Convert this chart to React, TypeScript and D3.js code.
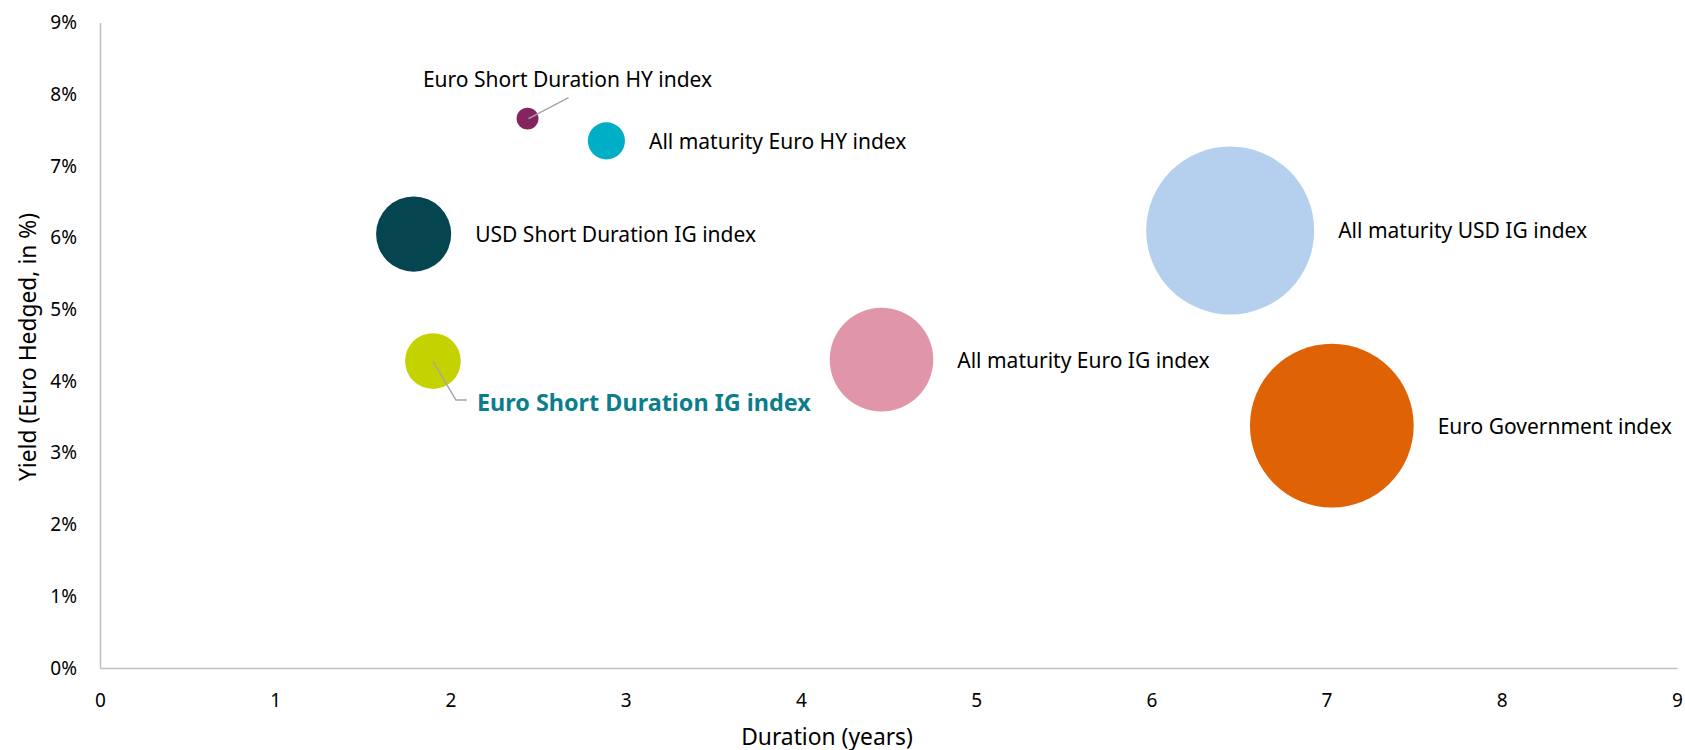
import React, { useEffect, useRef } from "react";
import * as d3 from "d3";

// данные: дюрация (лет), доходность (%), размер пузыря (усл. ед.)
const names = [
  "Euro Short Duration HY index",
  "All maturity Euro HY index",
  "USD Short Duration IG index",
  "Euro Short Duration IG index",
  "All maturity Euro IG index",
  "All maturity USD IG index",
  "Euro Government index",
];
const durations = [2.44, 2.89, 1.79, 1.9, 4.46, 6.45, 7.03];
const yields = [7.66, 7.35, 6.05, 4.28, 4.3, 6.1, 3.38];
const sizes = [1.7, 4.9, 20, 11, 38, 100, 95];
const colors = ["#862461", "#00AFC6", "#04454F", "#C4D300", "#E095A9", "#B5D0EE", "#DF6305"];

const xTicks = [0, 1, 2, 3, 4, 5, 6, 7, 8, 9];
const yTicks = [0, 1, 2, 3, 4, 5, 6, 7, 8, 9];

const FONT = "'Noto Sans', sans-serif";

const BubbleChart = () => {
  const ref = useRef<SVGSVGElement>(null);

  useEffect(() => {
    const width = 1685;
    const height = 750;

    const svg = d3.select(ref.current).attr("width", width).attr("height", height);
    svg.selectAll("*").remove();

    const x = d3.scaleLinear().domain([0, 9]).range([100, 1677]);
    const y = d3.scaleLinear().domain([0, 9]).range([668, 22.5]);
    const r = d3.scaleSqrt().domain([0, 100]).range([0, 84]);

    // === ОСИ ===
    const xAxis = svg.append("g")
      .attr("transform", `translate(0,${y(0)})`)
      .call(d3.axisBottom(x).tickValues(xTicks).tickSize(0).tickSizeOuter(0).tickFormat(d3.format("d")));
    xAxis.select(".domain").attr("stroke", "#BFBFBF").attr("stroke-width", 1.5);
    xAxis.selectAll("text")
      .attr("y", 32)
      .attr("dy", "0.35em")
      .attr("font-family", FONT)
      .attr("font-size", "19px")
      .attr("fill", "#000");

    const yAxis = svg.append("g")
      .attr("transform", `translate(${x(0)},0)`)
      .call(d3.axisLeft(y).tickValues(yTicks).tickSize(0).tickSizeOuter(0).tickPadding(23).tickFormat((d) => `${d}%`));
    yAxis.select(".domain").attr("stroke", "#BFBFBF").attr("stroke-width", 1.5);
    yAxis.selectAll("text")
      .attr("font-family", FONT)
      .attr("font-size", "19px")
      .attr("fill", "#000");

    svg.append("text")
      .attr("transform", "translate(27,347) rotate(-90)")
      .attr("text-anchor", "middle")
      .attr("dominant-baseline", "central")
      .attr("font-family", FONT)
      .attr("font-size", "22.8px")
      .text("Yield (Euro Hedged, in %)");

    svg.append("text")
      .attr("x", 827)
      .attr("y", 736)
      .attr("text-anchor", "middle")
      .attr("dominant-baseline", "central")
      .attr("font-family", FONT)
      .attr("font-size", "22.8px")
      .text("Duration (years)");

    // === ПУЗЫРИ ===
    const data = names.map((name, i) => ({
      name,
      dur: durations[i],
      yld: yields[i],
      size: sizes[i],
      color: colors[i],
    }));

    svg.append("g")
      .selectAll("circle")
      .data(data)
      .join("circle")
      .attr("cx", (d) => x(d.dur))
      .attr("cy", (d) => y(d.yld))
      .attr("r", (d) => r(d.size))
      .attr("fill", (d) => d.color);

    // === ПОДПИСИ ===
    const labels = svg.append("g").attr("font-family", FONT).attr("font-size", "21px");

    data.forEach((d, i) => {
      const cx = x(d.dur);
      const cy = y(d.yld);
      const rad = r(d.size);

      if (i === 0) {
        // выноска сверху
        labels.append("line")
          .attr("x1", cx + 1).attr("y1", cy)
          .attr("x2", cx + 41).attr("y2", cy - 21)
          .attr("stroke", "#A6A6A6").attr("stroke-width", 1.5);
        labels.append("text")
          .attr("x", cx + 40).attr("y", cy - 40)
          .attr("text-anchor", "middle")
          .attr("dominant-baseline", "central")
          .text(d.name);
      } else if (i === 3) {
        // выделенная подпись с выноской
        labels.append("polyline")
          .attr("points", `${cx},${cy} ${cx + 23},${cy + 39} ${cx + 34},${cy + 39}`)
          .attr("fill", "none")
          .attr("stroke", "#A6A6A6").attr("stroke-width", 1.5);
        labels.append("text")
          .attr("x", cx + 44).attr("y", cy + 41)
          .attr("dominant-baseline", "central")
          .attr("font-weight", "bold")
          .attr("font-size", "23.4px")
          .attr("fill", "#0B7E8C")
          .text(d.name);
      } else {
        labels.append("text")
          .attr("x", cx + rad + 24).attr("y", cy)
          .attr("dominant-baseline", "central")
          .text(d.name);
      }
    });
  }, []);

  return (
    <div style={{ position: "absolute", left: 0, top: 0, background: "#fff" }}>
      <svg ref={ref} style={{ display: "block" }}></svg>
    </div>
  );
};

export default BubbleChart;
